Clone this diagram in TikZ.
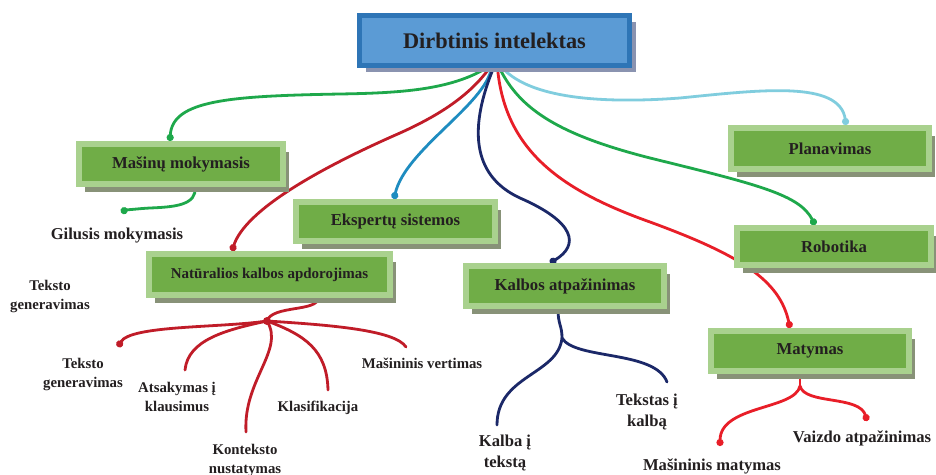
\documentclass[tikz,border=0pt]{standalone}
\usepackage{fontspec}
\setmainfont{Liberation Serif}
\usetikzlibrary{shadows,backgrounds,arrows.meta}

\definecolor{ink}{RGB}{35,31,32}
\definecolor{leaf}{RGB}{112,173,71}
\definecolor{leafrim}{RGB}{169,209,142}
\definecolor{leafshade}{RGB}{136,146,120}
\definecolor{sky}{RGB}{91,155,213}
\definecolor{skyrim}{RGB}{46,117,182}
\definecolor{skyshade}{RGB}{138,147,176}
\definecolor{cgreen}{RGB}{30,168,75}
\definecolor{cdarkred}{RGB}{192,28,40}
\definecolor{cteal}{RGB}{30,140,192}
\definecolor{cnavy}{RGB}{27,40,104}
\definecolor{cred}{RGB}{232,30,40}
\definecolor{clight}{RGB}{128,205,222}

\begin{document}
\begin{tikzpicture}[x=1pt,y=-1pt,
  rootbox/.style={rectangle, fill=sky, draw=skyrim, line width=5pt, text=ink,
    font=\fontsize{22.3}{26}\selectfont\bfseries, inner sep=0pt,
    minimum width=270pt, minimum height=50pt,
    drop shadow={shadow xshift=6pt, shadow yshift=-6pt, fill=skyshade, opacity=1}},
  topic/.style={rectangle, fill=leaf, draw=leafrim, line width=6pt, text=ink,
    font=\fontsize{16.7}{20}\selectfont\bfseries, inner sep=0pt,
    drop shadow={shadow xshift=6pt, shadow yshift=-8pt, fill=leafshade, opacity=1}},
  lab/.style={text=ink, align=center, inner sep=1pt,
    font=\fontsize{14.8}{19}\selectfont\bfseries},
  labbig/.style={lab, font=\fontsize{16.6}{20.5}\selectfont\bfseries},
  link/.style={line width=2.8pt, line cap=round},
  knob/.style={-{Circle[length=7pt]}}
]
\useasboundingbox (0,0) rectangle (936,474);

% central topic
\node[rootbox] (title) at (494.5,40.5) {Dirbtinis intelektas};

% first-level topics
\node[topic, minimum width=204pt, minimum height=40pt] (mm) at (181,164) {Mašinų mokymasis};
\node[topic, minimum width=199pt, minimum height=39pt] (es) at (395.5,221.5) {Ekspertų sistemos};
\node[topic, minimum width=241pt, minimum height=41pt,
      font=\fontsize{15}{18}\selectfont\bfseries] (nlp) at (269.5,274.5) {Natūralios kalbos apdorojimas};
\node[topic, minimum width=198pt, minimum height=40pt] (ka) at (565,286) {Kalbos atpažinimas};
\node[topic, minimum width=198pt, minimum height=41pt] (pl) at (830,148.5) {Planavimas};
\node[topic, minimum width=194pt, minimum height=37pt] (rb) at (834,246.5) {Robotika};
\node[topic, minimum width=198pt, minimum height=40pt] (my) at (810,351) {Matymas};

% second-level labels
\node[labbig] (gm) at (117,236) {Gilusis mokymasis};
\node[lab] (tg1) at (50,296) {Teksto\\generavimas};
\node[lab] (tg2) at (83,374) {Teksto\\generavimas};
\node[lab] (ak) at (177,397) {Atsakymas į\\klausimus};
\node[lab] (kn) at (245,460) {Konteksto\\nustatymas};
\node[lab] (kl) at (318,408) {Klasifikacija};
\node[lab] (mv) at (422,363) {Mašininis vertimas};
\node[labbig] (kt) at (505,453) {Kalba į\\tekstą};
\node[labbig] (tk) at (647,412) {Tekstas į\\kalbą};
\node[labbig] (mmat) at (712,466) {Mašininis matymas};
\node[labbig] (va) at (862,438) {Vaizdo atpažinimas};

% branch points and free ends
\coordinate (gm end) at (123,214);
\coordinate (nlp hub) at (267,321);
\coordinate (tg2 end) at (118,347);
\coordinate (ak end) at (185,370);
\coordinate (kn end) at (246,432);
\coordinate (kl end) at (328,390);
\coordinate (mv end) at (406,347);
\coordinate (ka fork) at (562,338);
\coordinate (kt end) at (497,425);
\coordinate (tk end) at (667,382);
\coordinate (my fork) at (800,386);
\coordinate (mmat end) at (720,446);
\coordinate (va end) at (867,421);

\begin{scope}[on background layer]
  \fill[white] (0,0) rectangle (936,474);

  % branches leaving the central topic
  \draw[link, cgreen, knob] ([xshift=-8pt]title.south)
    .. controls (450,90) and (400,93) .. (340,94)
    .. controls (230,96) and (172,100) .. ([xshift=-11pt]mm.north);
  \draw[link, cdarkred, knob] ([xshift=-5pt]title.south)
    .. controls (470,95) and (440,115) .. (400,133)
    .. controls (320,168) and (245,210) .. ([xshift=-37.5pt]nlp.north);
  \draw[link, cteal, knob] ([xshift=-3pt]title.south)
    .. controls (485,105) and (405,150) .. ([xshift=-1.5pt]es.north);
  \draw[link, cnavy, knob] ([xshift=-1pt]title.south)
    .. controls (470,125) and (470,175) .. (520,198)
    .. controls (575,222) and (580,245) .. ([xshift=-15pt]ka.north);
  \draw[link, cred, knob] ([xshift=3pt]title.south)
    .. controls (505,150) and (560,190) .. (650,222)
    .. controls (740,255) and (780,280) .. ([xshift=-20pt]my.north);
  \draw[link, cgreen, knob] ([xshift=5pt]title.south)
    .. controls (520,110) and (560,135) .. (650,158)
    .. controls (760,185) and (800,195) .. ([xshift=-19pt]rb.north);
  \draw[link, clight, knob] ([xshift=8pt]title.south)
    .. controls (530,98) and (600,104) .. (680,98)
    .. controls (760,90) and (840,80) .. ([xshift=16pt]pl.north);

  % machine learning
  \draw[link, cgreen, knob] ([xshift=14pt]mm.south)
    .. controls (197,205) and (175,207) .. (150,208)
    .. controls (132,209) and (124,211) .. (gm end);

  % natural language processing
  \draw[link, cdarkred] ([xshift=48.5pt]nlp.south)
    .. controls (318,312) and (272,305) .. (nlp hub);
  \fill[cdarkred] (nlp hub) circle (4pt);
  \draw[link, cdarkred, knob] (nlp hub) .. controls (220,328) and (130,325) .. (tg2 end);
  \draw[link, cdarkred] (nlp hub) .. controls (225,330) and (188,340) .. (ak end);
  \draw[link, cdarkred] (nlp hub) .. controls (285,350) and (243,380) .. (kn end);
  \draw[link, cdarkred] (nlp hub) .. controls (305,335) and (327,350) .. (kl end);
  \draw[link, cdarkred] (nlp hub) .. controls (330,325) and (395,330) .. (mv end);

  % speech recognition
  \draw[link, cnavy] ([xshift=-7pt]ka.south) .. controls (558,325) and (562,325) .. (ka fork);
  \draw[link, cnavy] (ka fork) .. controls (558,375) and (497,375) .. (kt end);
  \draw[link, cnavy] (ka fork) .. controls (575,360) and (655,350) .. (tk end);

  % vision
  \draw[link, cred] ([xshift=-10pt]my.south) -- (my fork);
  \draw[link, cred, knob] (my fork) .. controls (795,410) and (720,405) .. (mmat end);
  \draw[link, cred, knob] (my fork) .. controls (805,405) and (860,395) .. (va end);
\end{scope}
\end{tikzpicture}
\end{document}
